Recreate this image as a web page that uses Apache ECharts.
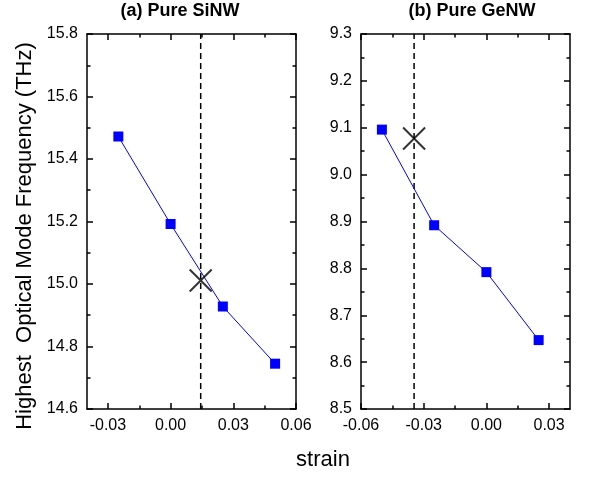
<!DOCTYPE html>
<html><head><meta charset="utf-8">
<script src="https://cdn.jsdelivr.net/npm/echarts@6/dist/echarts.min.js"></script>
<style>html,body{margin:0;padding:0;background:#fff}#c{width:589px;height:479px}</style>
</head><body><div id="c"></div>
<script>
// ---- data ----
const siStrain = [-0.025, 0.0, 0.025, 0.05];
const siFreq = [15.472, 15.192, 14.928, 14.745];
const siCross = [0.0144, 15.011];
const geStrain = [-0.05, -0.025, 0.0, 0.025];
const geFreq = [9.096, 8.892, 8.792, 8.647];
const geCross = [-0.0346, 9.077];
const siXTicks = [-0.03, 0.0, 0.03, 0.06];
const siXMinor = [-0.015, 0.015, 0.045];
const geXTicks = [-0.06, -0.03, 0.0, 0.03];
const geXMinor = [-0.045, -0.015, 0.015];
const siYRange = [14.6, 15.8];
const geYRange = [8.5, 9.3];
const titles = ['(a) Pure SiNW', '(b) Pure GeNW'];
const yTitle = 'Highest  Optical Mode Frequency (THz)';
const xTitle = 'strain';

const FONT = "'Liberation Sans', Arial, sans-serif";
const chart = echarts.init(document.getElementById('c'));
const axisLine = {show: true, onZero: false, lineStyle: {color: '#000', width: 1.5}};

function xAxes(gi, min, max, major, minor) {
  const base = {type: 'value', gridIndex: gi, min: min, max: max, splitLine: {show: false}};
  return [
    Object.assign({}, base, {position: 'bottom', axisLine: axisLine,
      axisTick: {show: true, inside: true, length: 6, lineStyle: {color: '#000', width: 1.5}, customValues: major},
      axisLabel: {show: true, margin: 9, color: '#000', fontSize: 16, fontFamily: FONT, customValues: major,
        formatter: v => v.toFixed(2)}}),
    Object.assign({}, base, {position: 'bottom', axisLine: {show: false},
      axisTick: {show: true, inside: true, length: 3.5, lineStyle: {color: '#000', width: 1.5}, customValues: minor},
      axisLabel: {show: false}}),
    Object.assign({}, base, {position: 'top', axisLine: axisLine,
      axisTick: {show: true, inside: true, length: 6, lineStyle: {color: '#000', width: 1.5}, customValues: major},
      axisLabel: {show: false}}),
    Object.assign({}, base, {position: 'top', axisLine: {show: false},
      axisTick: {show: true, inside: true, length: 3.5, lineStyle: {color: '#000', width: 1.5}, customValues: minor},
      axisLabel: {show: false}})
  ];
}
function yAxes(gi, range, interval, dec) {
  const base = {type: 'value', gridIndex: gi, min: range[0], max: range[1], interval: interval, splitLine: {show: false},
    minorTick: {show: true, splitNumber: 2, length: 3.5, lineStyle: {color: '#000', width: 1.5}}};
  return [
    Object.assign({}, base, {position: 'left', axisLine: axisLine,
      axisTick: {show: true, inside: true, length: 6, lineStyle: {color: '#000', width: 1.5}},
      axisLabel: {show: true, margin: 9, color: '#000', fontSize: 16, fontFamily: FONT, formatter: v => v.toFixed(dec)}}),
    Object.assign({}, base, {position: 'right', axisLine: axisLine,
      axisTick: {show: true, inside: true, length: 6, lineStyle: {color: '#000', width: 1.5}},
      axisLabel: {show: false}})
  ];
}
function zip(a, b) { return a.map((v, i) => [v, b[i]]); }
const crossPath = 'path://M0,0L10,10M10,0L0,10';

function panelSeries(gi, strain, freq, cross, yRange) {
  const xi = gi * 4, yi = gi * 2;
  return [
    {type: 'line', xAxisIndex: xi, yAxisIndex: yi, data: [[cross[0], yRange[0]], [cross[0], yRange[1]]],
      symbol: 'none', lineStyle: {color: '#000', width: 1.5, type: [6, 4]}, animation: false, z: 2, silent: true},
    {type: 'line', xAxisIndex: xi, yAxisIndex: yi, data: zip(strain, freq),
      lineStyle: {color: '#0000ff', width: 1}, symbol: 'rect', symbolSize: 10,
      itemStyle: {color: '#0000ff'}, animation: false, z: 3},
    {type: 'scatter', xAxisIndex: xi, yAxisIndex: yi, data: [cross],
      symbol: crossPath, symbolSize: 22,
      itemStyle: {color: 'rgba(0,0,0,0)', borderColor: '#000', borderWidth: 2}, animation: false, z: 4}
  ];
}

const option = {
  backgroundColor: '#fff',
  animation: false,
  grid: [
    {left: 87, top: 34, width: 209, height: 375},
    {left: 361, top: 34, width: 209, height: 375}
  ],
  xAxis: [].concat(xAxes(0, -0.04, 0.06, siXTicks, siXMinor), xAxes(1, -0.06, 0.04, geXTicks, geXMinor)),
  yAxis: [].concat(yAxes(0, siYRange, 0.2, 1), yAxes(1, geYRange, 0.1, 1)),
  series: [].concat(panelSeries(0, siStrain, siFreq, siCross, siYRange), panelSeries(1, geStrain, geFreq, geCross, geYRange)),
  graphic: [
    {type: 'text', x: 180, y: 11, style: {text: titles[0], fill: '#000', font: 'bold 18px ' + FONT, textAlign: 'center', textVerticalAlign: 'middle'}},
    {type: 'text', x: 472, y: 11, style: {text: titles[1], fill: '#000', font: 'bold 18px ' + FONT, textAlign: 'center', textVerticalAlign: 'middle'}},
    {type: 'text', x: 25, y: 236, rotation: Math.PI / 2, style: {text: yTitle, fill: '#000', font: '22px ' + FONT, textAlign: 'center', textVerticalAlign: 'middle'}},
    {type: 'text', x: 323, y: 460, style: {text: xTitle, fill: '#000', font: '22px ' + FONT, textAlign: 'center', textVerticalAlign: 'middle'}}
  ]
};
chart.setOption(option);
</script></body></html>
